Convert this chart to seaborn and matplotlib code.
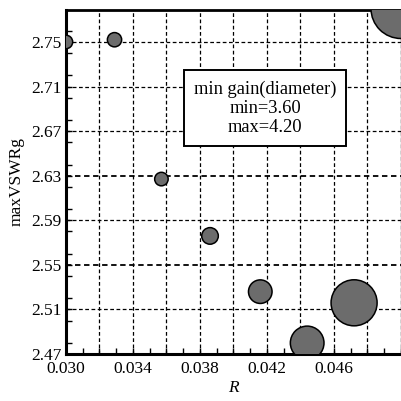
import numpy as np
import pandas as pd
import matplotlib
matplotlib.use("Agg")
import matplotlib.pyplot as plt
from matplotlib.ticker import MultipleLocator
import seaborn as sns

# values
R = [0.0300, 0.0329, 0.0357, 0.0386, 0.0416, 0.0444, 0.0472, 0.0500]
max_vswr = [2.750, 2.752, 2.627, 2.576, 2.526, 2.480, 2.516, 2.780]
min_gain = [3.60, 3.61, 3.60, 3.64, 3.73, 3.86, 4.02, 4.20]

x_ticks = [0.030, 0.034, 0.038, 0.042, 0.046]
x_tick_labels = ["0.030", "0.034", "0.038", "0.042", "0.046"]
y_ticks = [2.47, 2.51, 2.55, 2.59, 2.63, 2.67, 2.71, 2.75]
y_tick_labels = ["2.47", "2.51", "2.55", "2.59", "2.63", "2.67", "2.71", "2.75"]

df = pd.DataFrame({"R": R, "maxVSWRg": max_vswr, "gain": min_gain})

# diameter (pixels) grows linearly with gain -> marker area in pt^2
d_min, d_max = 13.5, 60.0
g = df["gain"]
diam = d_min + (g - g.min()) / (g.max() - g.min()) * (d_max - d_min)
df["area"] = (diam * 72 / 100) ** 2
a_rng = (df["area"].min(), df["area"].max())

sns.set_theme(style="white")
plt.rcParams["font.family"] = ["Liberation Serif", "DejaVu Serif"]

fig = plt.figure(figsize=(4.02, 4.01), dpi=100)
ax = fig.add_axes([0.164, 0.117, 0.8335, 0.859])

sns.scatterplot(data=df, x="R", y="maxVSWRg", size="area", sizes=a_rng,
                size_norm=a_rng, color="#6c6c6c", edgecolor="black",
                linewidth=1.1, legend=False, ax=ax, zorder=3)

ax.set_xlim(0.030, 0.050)
ax.set_ylim(2.47, 2.779)

# grid every 0.002 in R, labels every 0.004
grid_x = np.round(np.arange(0.030, 0.0501, 0.002), 3)
ax.set_xticks(grid_x)
ax.set_xticklabels([x_tick_labels[x_ticks.index(t)] if t in x_ticks else ""
                    for t in grid_x])
ax.xaxis.set_minor_locator(MultipleLocator(0.001))
ax.set_yticks(y_ticks)
ax.set_yticklabels(y_tick_labels)
ax.yaxis.set_minor_locator(MultipleLocator(0.02))

ax.set_axisbelow(True)
ax.grid(True, which="major", color="black", linestyle=(0, (3, 2)), linewidth=0.9)
for tick, loc in zip(ax.yaxis.get_major_ticks(), ax.get_yticks()):
    if abs(loc - 2.63) < 1e-6 or abs(loc - 2.55) < 1e-6:
        tick.gridline.set_linewidth(1.3)

ax.tick_params(which="both", direction="in", length=4, width=1, color="black",
               labelsize=12.5, labelcolor="black", bottom=True, left=True,
               top=False, right=False)
ax.tick_params(axis="x", pad=5)
ax.tick_params(axis="y", pad=3)

for side, lw in [("left", 2.2), ("bottom", 2.2), ("top", 2.0), ("right", 0.8)]:
    ax.spines[side].set_linewidth(lw)
    ax.spines[side].set_color("black")

ax.set_xlabel("R", fontstyle="italic", fontsize=12.5, color="black", labelpad=2)
ax.set_ylabel("maxVSWRg", fontsize=12.5, color="black", labelpad=5)

ax.text(0.594, 0.714,
        f"min gain(diameter)\nmin={min(min_gain):.2f}\nmax={max(min_gain):.2f}",
        transform=ax.transAxes, ha="center", va="center", multialignment="center",
        fontsize=13.3, linespacing=1.15, color="black", zorder=5,
        bbox=dict(boxstyle="square,pad=0.55", fc="white", ec="black", lw=1.4))

fig.savefig("out.png", dpi=100)
